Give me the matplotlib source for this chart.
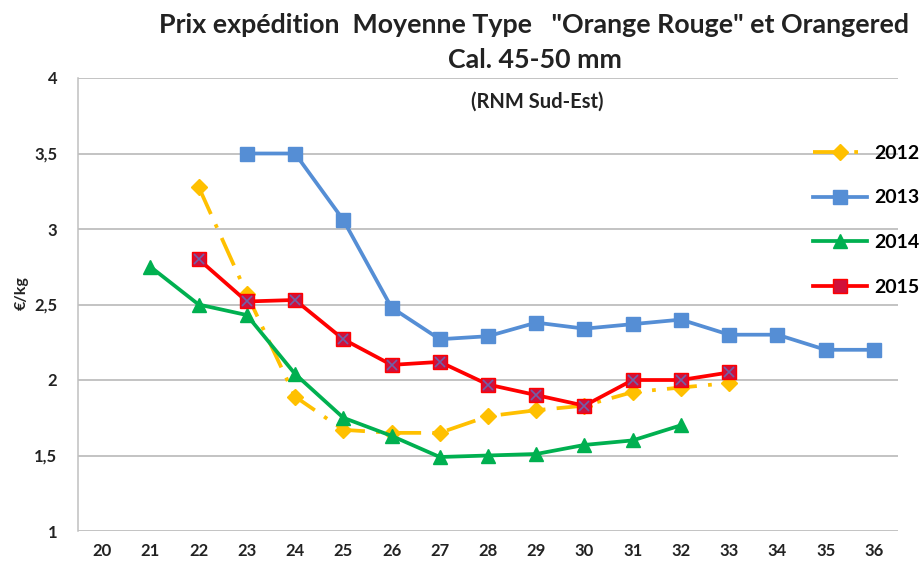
import matplotlib
matplotlib.use("Agg")
import matplotlib.pyplot as plt
from matplotlib.lines import Line2D

plt.rcParams['font.family'] = ['Lato', 'DejaVu Sans']

weeks = list(range(20, 37))
x2012 = [22, 23, 24, 25, 26, 27, 28, 29, 30, 31, 32, 33]
y2012 = [3.28, 2.57, 1.89, 1.67, 1.65, 1.65, 1.76, 1.80, 1.83, 1.92, 1.95, 1.98]
x2013 = [23, 24, 25, 26, 27, 28, 29, 30, 31, 32, 33, 34, 35, 36]
y2013 = [3.50, 3.50, 3.06, 2.48, 2.27, 2.29, 2.38, 2.34, 2.37, 2.40, 2.30, 2.30, 2.20, 2.20]
x2014 = [21, 22, 23, 24, 25, 26, 27, 28, 29, 30, 31, 32]
y2014 = [2.75, 2.50, 2.43, 2.04, 1.75, 1.63, 1.49, 1.50, 1.51, 1.57, 1.60, 1.70]
x2015 = [22, 23, 24, 25, 26, 27, 28, 29, 30, 31, 32, 33]
y2015 = [2.80, 2.52, 2.53, 2.27, 2.10, 2.12, 1.97, 1.90, 1.83, 2.00, 2.00, 2.05]
yticks = [1, 1.5, 2, 2.5, 3, 3.5, 4]
ytick_labels = ["1", "1,5", "2", "2,5", "3", "3,5", "4"]

c2012 = "#FFC000"
c2013 = "#558ED5"
c2014 = "#00B050"
c2015 = "#FF0000"
fill2015 = "#D0103A"
x2015c = "#7060A8"

fig = plt.figure(figsize=(9.22, 5.63), dpi=100)
ax = fig.add_axes([78/922, 1 - 531/563, (898 - 78)/922, (531 - 78)/563])

lw = 2.7
dash = (8, 3, 1, 3)
ax.plot(x2012, y2012, color=c2012, lw=lw, dashes=dash, marker='D', ms=8.5,
        markerfacecolor=c2012, markeredgecolor=c2012, zorder=3)
ax.plot(x2013, y2013, color=c2013, lw=lw, marker='s', ms=10,
        markerfacecolor=c2013, markeredgecolor=c2013, zorder=3)
ax.plot(x2014, y2014, color=c2014, lw=lw, marker='^', ms=10.5,
        markerfacecolor=c2014, markeredgecolor=c2014, zorder=4)
ax.plot(x2015, y2015, color=c2015, lw=lw, marker='s', ms=10,
        markerfacecolor=fill2015, markeredgecolor=c2015, zorder=5)
ax.plot(x2015, y2015, ls='none', marker='x', ms=7, mew=1.2,
        markeredgecolor=x2015c, zorder=6)

ax.set_xlim(19.5, 36.5)
ax.set_ylim(1, 4)
ax.set_xticks(weeks)
ax.set_xticklabels([str(w) for w in weeks], fontsize=12, fontweight='bold',
                   color='#222222')
ax.set_yticks(yticks)
ax.set_yticklabels(ytick_labels, fontsize=12, fontweight='bold', color='#222222')
ax.tick_params(axis='x', length=0, pad=9)
ax.tick_params(axis='y', length=0, pad=15)
ax.grid(axis='y', color='#B3B3B3', lw=1.1)
ax.set_axisbelow(True)
for s in ['top', 'right', 'bottom']:
    ax.spines[s].set_visible(False)
ax.spines['left'].set_color('#C0C0C0')
ax.spines['left'].set_linewidth(1.1)

fig.text(22/922, 1 - 293/563, "€/kg", rotation=90, ha='center', va='center',
         fontsize=11.5, fontweight='bold', color='#222222')

fig.text(534/922, 1 - 25/563, 'Prix expédition  Moyenne Type   "Orange Rouge" et Orangered',
         ha='center', va='center', fontsize=19.3, fontweight='bold', color='#222222')
fig.text(535/922, 1 - 60/563, 'Cal. 45-50 mm', ha='center', va='center',
         fontsize=19.3, fontweight='bold', color='#222222')
fig.text(537/922, 1 - 102/563, '(RNM Sud-Est)', ha='center', va='center',
         fontsize=14.5, fontweight='bold', color='#222222')

handles = [
    Line2D([], [], color=c2012, lw=lw, dashes=dash, marker='D', ms=8.5),
    Line2D([], [], color=c2013, lw=lw, marker='s', ms=10),
    Line2D([], [], color=c2014, lw=lw, marker='^', ms=10.5),
    Line2D([], [], color=c2015, lw=lw, marker='s', ms=10, markerfacecolor=fill2015),
]
fig.legend(handles, ["2012", "2013", "2014", "2015"], loc='upper left',
           bbox_to_anchor=(805/922, 1 - 137/563), frameon=False,
           prop={'size': 14, 'weight': 'bold'}, handlelength=2.8,
           labelspacing=1.42, handletextpad=0.36, borderaxespad=0)

fig.savefig("out.png", dpi=100)
